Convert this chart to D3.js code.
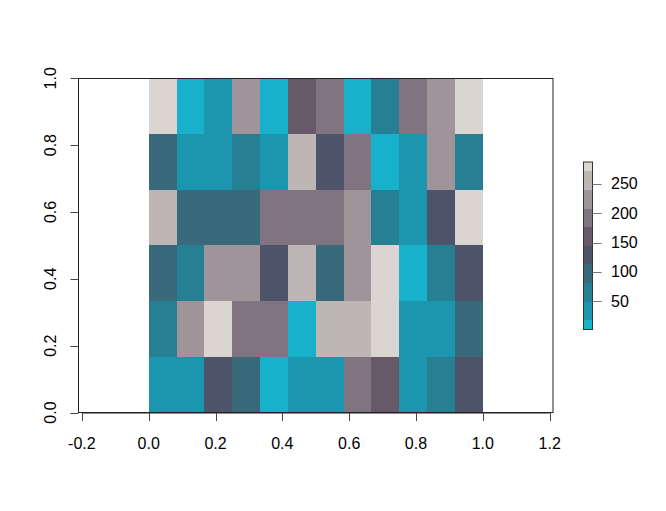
<!DOCTYPE html>
<html><head><meta charset="utf-8">
<script src="https://cdn.jsdelivr.net/npm/d3@7"></script>
<style>body{margin:0;background:#fff}svg{display:block}text{font-family:"Liberation Sans",Arial,sans-serif;font-size:16px;fill:#000}</style>
</head><body>
<script>
// rows from bottom (y=0) to top (y=1), 12 columns each from x=0 to x=1
const row1 = [49, 39, 141, 104, 11, 43, 54, 175, 152, 36, 68, 119];
const row2 = [84, 203, 276, 190, 181, 18, 239, 251, 262, 56, 33, 113];
const row3 = [111, 63, 226, 205, 138, 248, 92, 218, 265, 2, 77, 129];
const row4 = [236, 95, 108, 99, 184, 177, 196, 212, 70, 35, 124, 281];
const row5 = [102, 47, 38, 66, 52, 244, 131, 193, 5, 44, 209, 80];
const row6 = [287, 14, 41, 215, 9, 160, 188, 22, 73, 179, 221, 270];
const palette = ["#17B1CB","#1C95AE","#267F93","#386A7C","#4D5469","#67596A","#807480","#9E9499","#BEB5B5","#DAD5D0"];
const xTicks = [-0.2, 0.0, 0.2, 0.4, 0.6, 0.8, 1.0, 1.2];
const yTicks = [0.0, 0.2, 0.4, 0.6, 0.8, 1.0];
const legendTicks = [50, 100, 150, 200, 250];

const W = 666, H = 511;
const rows = [row1, row2, row3, row4, row5, row6];
const nx = row1.length, ny = rows.length;
const all = rows.flat();
const zmin = d3.min(all), zmax = d3.max(all);

const svg = d3.select("body").append("svg").attr("width", W).attr("height", H);
const x = d3.scaleLinear().domain([-0.21, 1.21]).range([78.5, 553]);
const y = d3.scaleLinear().domain([0, 1]).range([412.5, 78.3]);
const color = d3.scaleQuantize().domain([zmin, zmax]).range(palette);

const cells = [];
rows.forEach((r, j) => r.forEach((v, i) => cells.push({i, j, v})));
svg.append("g").attr("shape-rendering", "crispEdges").selectAll("rect").data(cells).join("rect")
  .attr("x", d => Math.round(x(d.i / nx)))
  .attr("width", d => Math.round(x((d.i + 1) / nx)) - Math.round(x(d.i / nx)))
  .attr("y", d => Math.round(y((d.j + 1) / ny)))
  .attr("height", d => Math.round(y(d.j / ny)) - Math.round(y((d.j + 1) / ny)))
  .attr("fill", d => color(d.v));

// box
svg.append("rect").attr("x", 78.5).attr("y", 78.5).attr("width", 474.5).attr("height", 334)
  .attr("fill", "none").attr("stroke", "#222").attr("stroke-width", 1);

// x axis
const gx = svg.append("g").attr("transform", "translate(0,413)");
gx.append("line").attr("x1", x(-0.2)).attr("x2", x(1.2)).attr("stroke", "#222");
xTicks.forEach(t => {
  gx.append("line").attr("x1", Math.round(x(t)) + 0.5).attr("x2", Math.round(x(t)) + 0.5)
    .attr("y1", 0).attr("y2", 8).attr("stroke", "#444");
  gx.append("text").attr("x", x(t)).attr("y", 36).attr("text-anchor", "middle").text(t.toFixed(1));
});

// y axis
const gy = svg.append("g").attr("transform", "translate(78.5,0)");
yTicks.forEach(t => {
  const yy = Math.round(y(t)) + 0.5;
  gy.append("line").attr("x1", -8).attr("x2", 0).attr("y1", yy).attr("y2", yy).attr("stroke", "#444");
  gy.append("text").attr("transform", `translate(-23,${y(t)}) rotate(-90)`)
    .attr("text-anchor", "middle").text(t.toFixed(1));
});

// color key
const ly = d3.scaleLinear().domain([zmin, zmax]).range([329.5, 162]);
const lx0 = 583.5, lx1 = 592.5;
const step = (zmax - zmin) / (palette.length - 1);
const lg = svg.append("g");
lg.append("g").attr("shape-rendering", "crispEdges").selectAll("rect").data(palette).join("rect")
  .attr("x", lx0).attr("width", lx1 - lx0)
  .attr("y", (c, k) => ly(Math.min(zmax, zmin + (k + 0.5) * step)))
  .attr("height", (c, k) => ly(Math.max(zmin, zmin + (k - 0.5) * step)) - ly(Math.min(zmax, zmin + (k + 0.5) * step)))
  .attr("fill", c => c);
lg.append("rect").attr("x", lx0).attr("y", ly(zmax)).attr("width", lx1 - lx0).attr("height", ly(zmin) - ly(zmax))
  .attr("fill", "none").attr("stroke", "#333");
legendTicks.forEach(t => {
  const yy = Math.round(ly(t)) + 0.5;
  lg.append("line").attr("x1", lx1).attr("x2", lx1 + 9).attr("y1", yy).attr("y2", yy).attr("stroke", "#777");
  lg.append("text").attr("x", 611).attr("y", ly(t) + 5.5).text(t);
});
</script>
</body></html>
